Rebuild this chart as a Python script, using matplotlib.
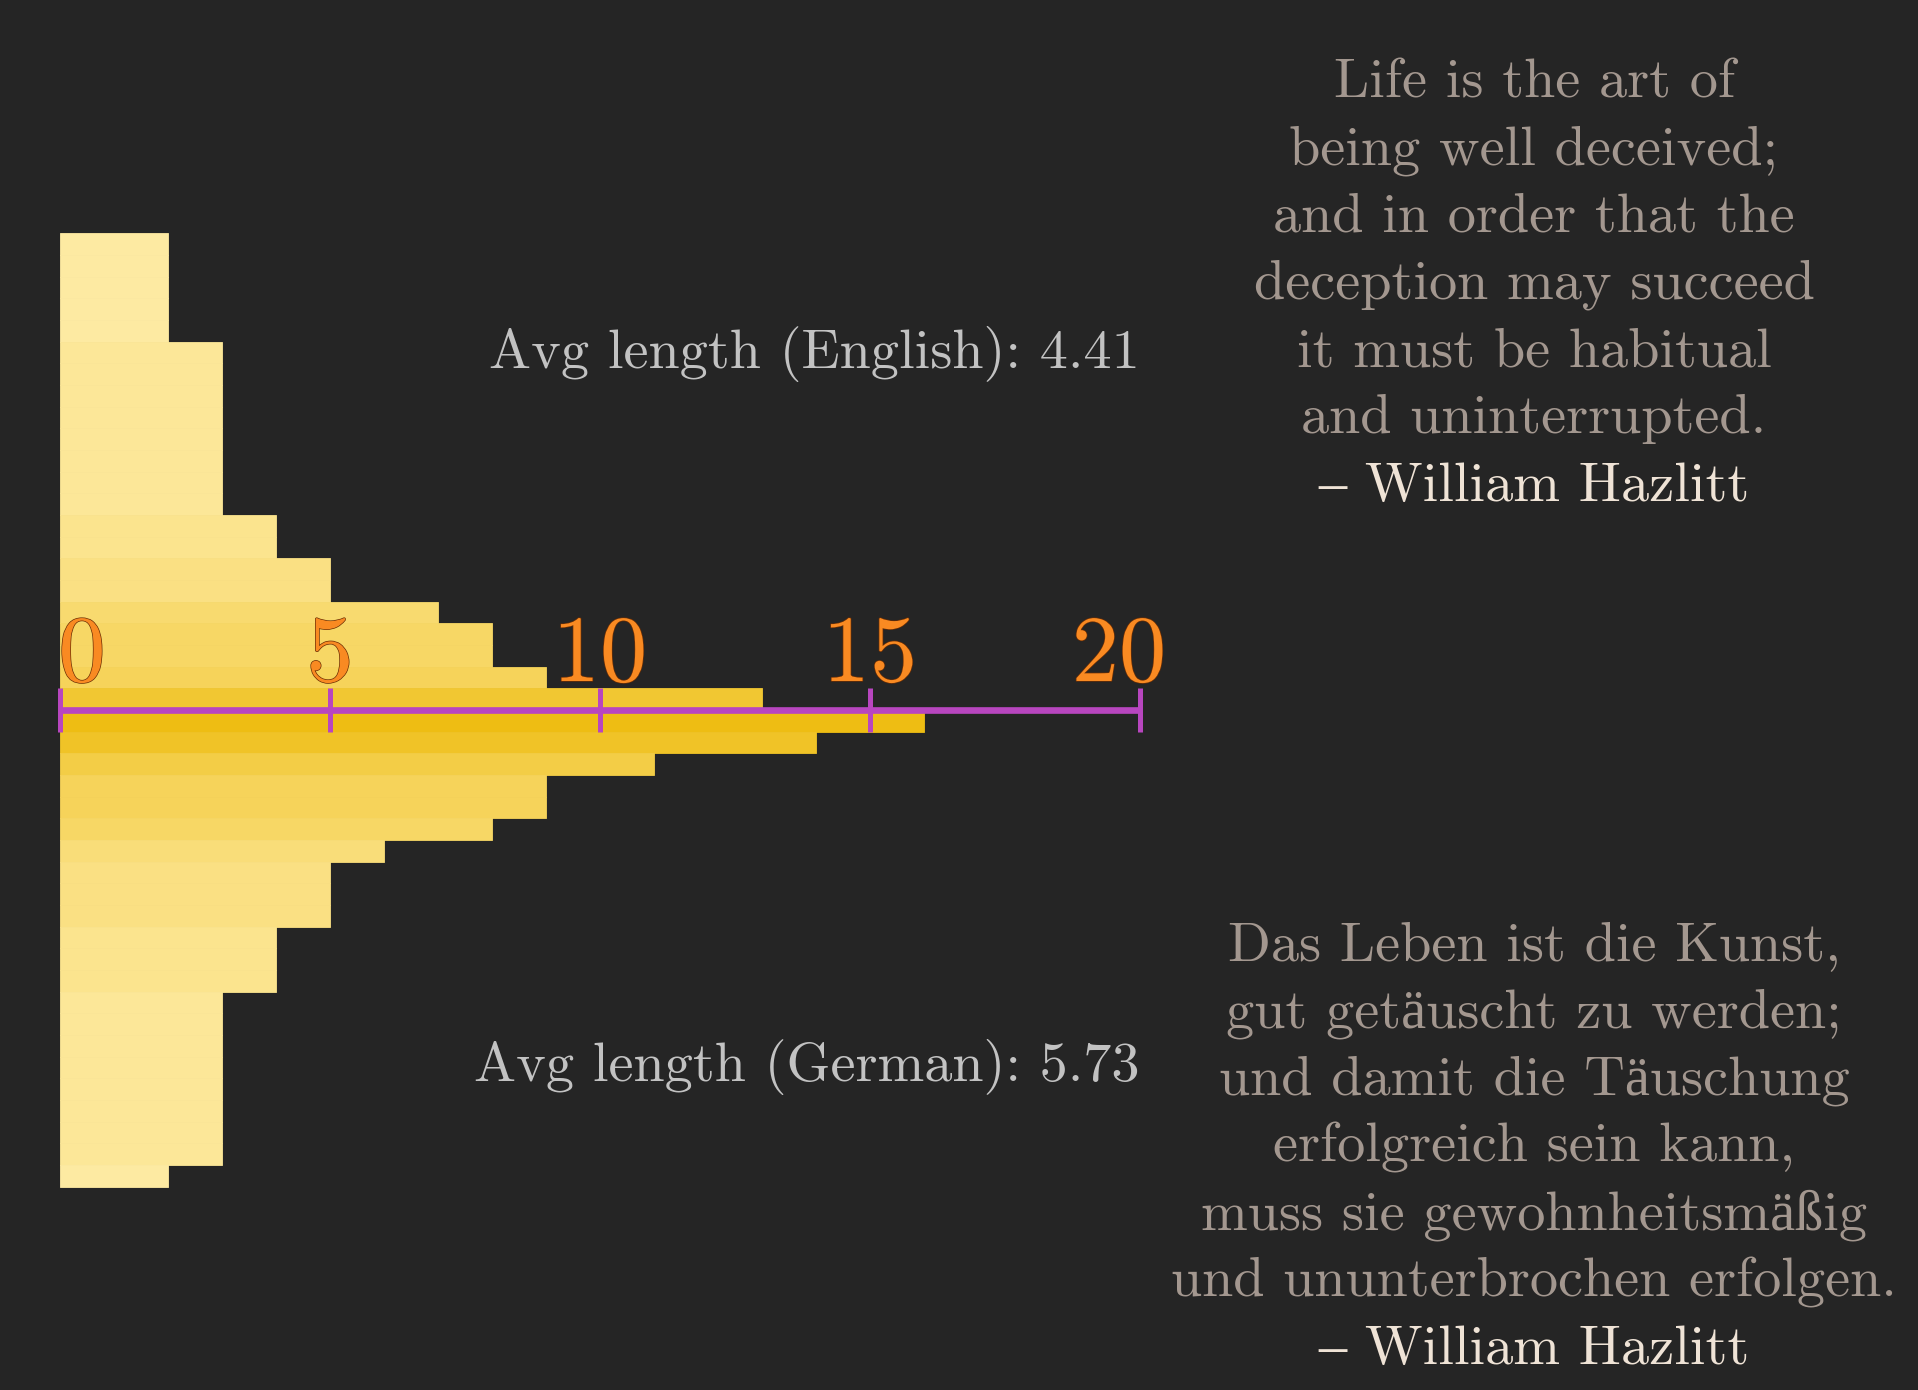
import matplotlib
matplotlib.use("Agg")
import matplotlib.pyplot as plt
import matplotlib.patheffects as pe
import numpy as np
from matplotlib.colors import to_rgb

# ---- data ----
english_lengths = [2, 2, 2, 2, 2, 3, 3, 3, 3, 3, 3, 3, 3, 4, 4, 5, 5, 7, 8, 8, 9, 13]   # top -> axis
german_lengths = [16, 14, 11, 9, 9, 8, 6, 5, 5, 5, 4, 4, 4, 3, 3, 3, 3, 3, 3, 3, 3, 2]  # axis -> bottom
tick_values = [0, 5, 10, 15, 20]
avg_english = "Avg length (English): 4.41"
avg_german = "Avg length (German): 5.73"
english_quote = ["Life is the art of", "being well deceived;", "and in order that the",
                 "deception may succeed", "it must be habitual", "and uninterrupted."]
german_quote = ["Das Leben ist die Kunst,", "gut getäuscht zu werden;", "und damit die Täuschung",
                "erfolgreich sein kann,", "muss sie gewohnheitsmäßig", "und ununterbrochen erfolgen."]
author = "– William Hazlitt"

# ---- style ----
BG = "#252525"
FONT = ["cmr10", "Liberation Serif"]
plt.rcParams["axes.unicode_minus"] = False
plt.rcParams["axes.formatter.use_mathtext"] = True

W, H = 1918, 1390
fig = plt.figure(figsize=(W / 100, H / 100), dpi=100, facecolor=BG)
ax = fig.add_axes([0, 0, 1, 1])
ax.set_facecolor(BG)
ax.axis("off")

px_per_unit = 54.0
row_px = 21.67
x0_px, axis_y_px = 60.0, 710.0
ax.set_xlim(-x0_px / px_per_unit, (W - x0_px) / px_per_unit)
ax.set_ylim(-(H - axis_y_px) / row_px, axis_y_px / row_px)

dark = np.array(to_rgb("#EEBD13"))
light = np.array(to_rgb("#FDEAA2"))
Lmin, Lmax = 2, 16


def bar_color(L):
    t = (L - Lmin) / (Lmax - Lmin)
    return light + (dark - light) * t


n_en = len(english_lengths)
en_y = np.arange(n_en)[::-1] + 0.5          # top row farthest from axis
for y, L in zip(en_y, english_lengths):
    c = bar_color(L)
    ax.barh(y, L, height=1.0, left=0, color=c, edgecolor=c, linewidth=0.6, zorder=1)

n_de = len(german_lengths)
de_y = -(np.arange(n_de) + 0.5)
for y, L in zip(de_y, german_lengths):
    c = bar_color(L)
    ax.barh(y, L, height=1.0, left=0, color=c, edgecolor=c, linewidth=0.6, zorder=1)

# number line
AX_C = "#B846BF"
ax.plot([tick_values[0], tick_values[-1]], [0, 0], color=AX_C, lw=4.8, solid_capstyle="butt", zorder=3)
for tv in tick_values:
    ax.plot([tv, tv], [-1.0, 1.0], color=AX_C, lw=3.6, solid_capstyle="butt", zorder=3)

label_shift_px = {0: 22, 20: -21}
for tv in tick_values:
    ax.annotate(str(tv), xy=(tv, 0), xytext=(label_shift_px.get(tv, 0) * 0.72, 29 * 0.72),
                textcoords="offset points", ha="center", va="baseline",
                fontsize=68, family=FONT, color="#F98A22", zorder=4,
                path_effects=[pe.withStroke(linewidth=1.0, foreground="#6B2E05")])

# avg texts
AVG_C = "#C2C2C2"
TS = 40.5
fig.text(1140 / W, 1 - 368 / H, avg_english, ha="right", va="baseline",
         fontsize=TS, family=FONT, color=AVG_C)
fig.text(1140 / W, 1 - 1081 / H, avg_german, ha="right", va="baseline",
         fontsize=TS, family=FONT, color=AVG_C)

# quotes
Q_C = "#A3978F"
A_C = "#EFE3D6"
cx = 1534 / W
spacing = 67.3
for k, line in enumerate(english_quote + [author]):
    fig.text(cx, 1 - (97 + k * spacing) / H, line, ha="center", va="baseline",
             fontsize=TS, family=FONT, color=A_C if k == len(english_quote) else Q_C)
for k, line in enumerate(german_quote + [author]):
    fig.text(cx, 1 - (960 + k * spacing) / H, line, ha="center", va="baseline",
             fontsize=TS, family=FONT, color=A_C if k == len(german_quote) else Q_C)

fig.savefig("out.png", dpi=100, facecolor=BG)
